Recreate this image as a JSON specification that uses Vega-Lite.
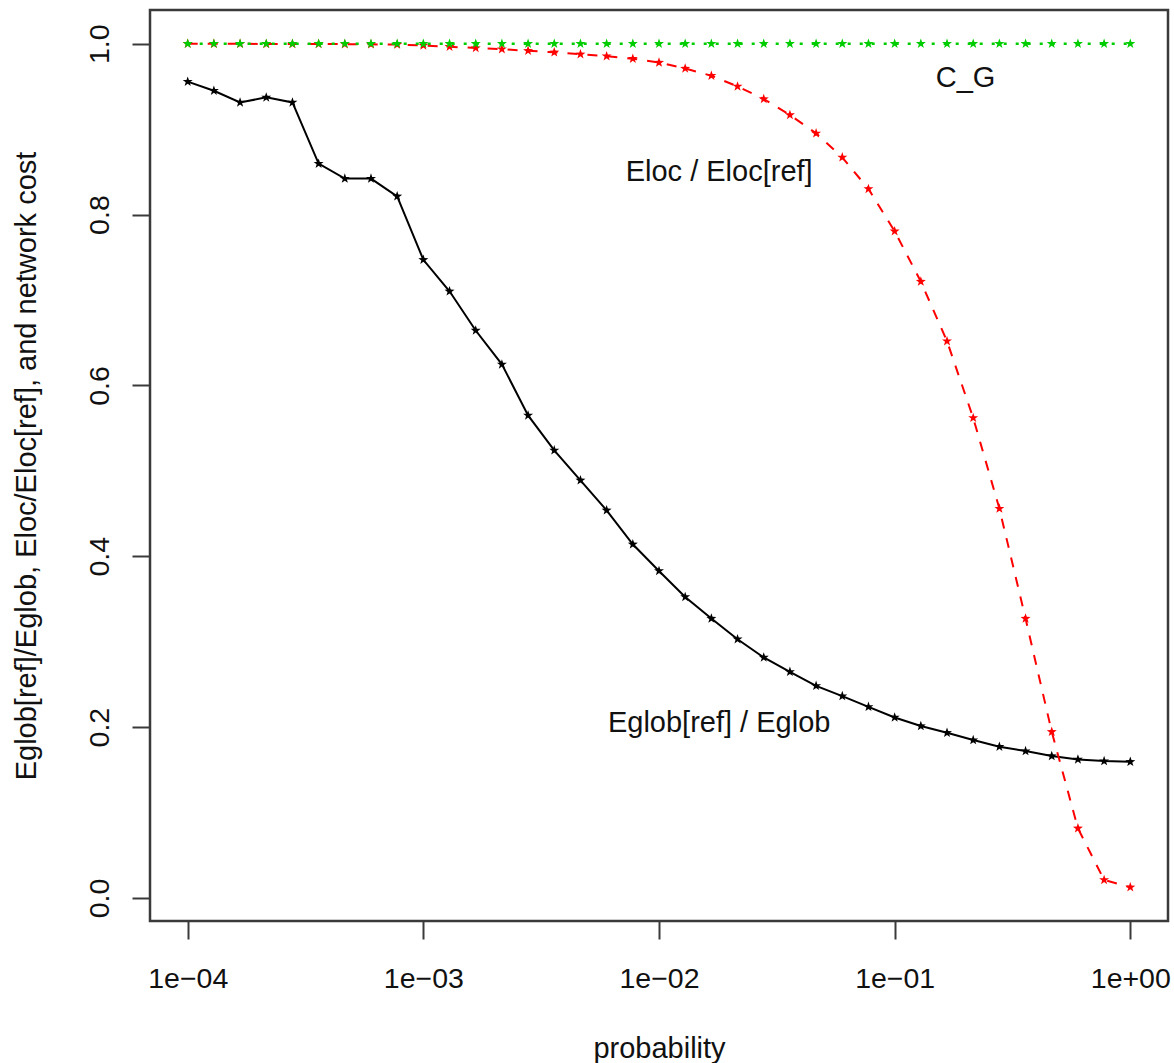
{
  "$schema": "https://vega.github.io/schema/vega-lite/v6.json",
  "autosize": "none",
  "width": 1018,
  "height": 911,
  "padding": {"left": 150, "top": 10, "right": 6, "bottom": 142},
  "background": "white",
  "config": {
    "font": "Liberation Sans",
    "view": {"stroke": "#3a3a3a", "strokeWidth": 2.5},
    "axis": {"grid": false, "domain": false, "tickColor": "#3a3a3a", "tickWidth": 2, "tickSize": 18,
             "labelFont": "Liberation Sans", "labelFontSize": 28.5, "labelColor": "#111",
             "titleFont": "Liberation Sans", "titleFontSize": 29, "titleFontWeight": "normal", "titleColor": "#111"}
  },
  "datasets": {
    "eglob": [
      {"p": 0.0001, "v": 0.9556}, {"p": 0.00012915, "v": 0.9450}, {"p": 0.00016681, "v": 0.9313},
      {"p": 0.00021544, "v": 0.9372}, {"p": 0.00027826, "v": 0.9313}, {"p": 0.00035938, "v": 0.8596},
      {"p": 0.00046416, "v": 0.8421}, {"p": 0.00059948, "v": 0.8421}, {"p": 0.00077426, "v": 0.8214},
      {"p": 0.001, "v": 0.7471}, {"p": 0.0012915, "v": 0.7102}, {"p": 0.0016681, "v": 0.6643},
      {"p": 0.0021544, "v": 0.6246}, {"p": 0.0027826, "v": 0.5649}, {"p": 0.0035938, "v": 0.5240},
      {"p": 0.0046416, "v": 0.4889}, {"p": 0.0059948, "v": 0.4538}, {"p": 0.0077426, "v": 0.4140},
      {"p": 0.01, "v": 0.3828}, {"p": 0.012915, "v": 0.3524}, {"p": 0.016681, "v": 0.3271},
      {"p": 0.021544, "v": 0.3029}, {"p": 0.027826, "v": 0.2815}, {"p": 0.035938, "v": 0.2647},
      {"p": 0.046416, "v": 0.2483}, {"p": 0.059948, "v": 0.2363}, {"p": 0.077426, "v": 0.2237},
      {"p": 0.1, "v": 0.2113}, {"p": 0.12915, "v": 0.2012}, {"p": 0.16681, "v": 0.1933},
      {"p": 0.21544, "v": 0.1848}, {"p": 0.27826, "v": 0.1770}, {"p": 0.35938, "v": 0.1719},
      {"p": 0.46416, "v": 0.1661}, {"p": 0.59948, "v": 0.1622}, {"p": 0.77426, "v": 0.1602},
      {"p": 1, "v": 0.1594}
    ],
    "eloc": [
      {"p": 0.0001, "v": 1.0}, {"p": 0.00012915, "v": 0.9999}, {"p": 0.00016681, "v": 0.9999},
      {"p": 0.00021544, "v": 0.9998}, {"p": 0.00027826, "v": 0.9998}, {"p": 0.00035938, "v": 0.9997},
      {"p": 0.00046416, "v": 0.9995}, {"p": 0.00059948, "v": 0.9993}, {"p": 0.00077426, "v": 0.9990},
      {"p": 0.001, "v": 0.9980}, {"p": 0.0012915, "v": 0.9965}, {"p": 0.0016681, "v": 0.9950},
      {"p": 0.0021544, "v": 0.9936}, {"p": 0.0027826, "v": 0.9918}, {"p": 0.0035938, "v": 0.9900},
      {"p": 0.0046416, "v": 0.9877}, {"p": 0.0059948, "v": 0.9854}, {"p": 0.0077426, "v": 0.9825},
      {"p": 0.01, "v": 0.9780}, {"p": 0.012915, "v": 0.9710}, {"p": 0.016681, "v": 0.9626},
      {"p": 0.021544, "v": 0.9500}, {"p": 0.027826, "v": 0.9353}, {"p": 0.035938, "v": 0.9166},
      {"p": 0.046416, "v": 0.8951}, {"p": 0.059948, "v": 0.8670}, {"p": 0.077426, "v": 0.8300},
      {"p": 0.1, "v": 0.7805}, {"p": 0.12915, "v": 0.7216}, {"p": 0.16681, "v": 0.6518},
      {"p": 0.21544, "v": 0.5620}, {"p": 0.27826, "v": 0.4558}, {"p": 0.35938, "v": 0.3271},
      {"p": 0.46416, "v": 0.1945}, {"p": 0.59948, "v": 0.0815}, {"p": 0.77426, "v": 0.0211},
      {"p": 1, "v": 0.0125}
    ],
    "cg": [
      {"p": 0.0001, "v": 1}, {"p": 0.00012915, "v": 1}, {"p": 0.00016681, "v": 1},
      {"p": 0.00021544, "v": 1}, {"p": 0.00027826, "v": 1}, {"p": 0.00035938, "v": 1},
      {"p": 0.00046416, "v": 1}, {"p": 0.00059948, "v": 1}, {"p": 0.00077426, "v": 1},
      {"p": 0.001, "v": 1}, {"p": 0.0012915, "v": 1}, {"p": 0.0016681, "v": 1},
      {"p": 0.0021544, "v": 1}, {"p": 0.0027826, "v": 1}, {"p": 0.0035938, "v": 1},
      {"p": 0.0046416, "v": 1}, {"p": 0.0059948, "v": 1}, {"p": 0.0077426, "v": 1},
      {"p": 0.01, "v": 1}, {"p": 0.012915, "v": 1}, {"p": 0.016681, "v": 1},
      {"p": 0.021544, "v": 1}, {"p": 0.027826, "v": 1}, {"p": 0.035938, "v": 1},
      {"p": 0.046416, "v": 1}, {"p": 0.059948, "v": 1}, {"p": 0.077426, "v": 1},
      {"p": 0.1, "v": 1}, {"p": 0.12915, "v": 1}, {"p": 0.16681, "v": 1},
      {"p": 0.21544, "v": 1}, {"p": 0.27826, "v": 1}, {"p": 0.35938, "v": 1},
      {"p": 0.46416, "v": 1}, {"p": 0.59948, "v": 1}, {"p": 0.77426, "v": 1},
      {"p": 1, "v": 1}
    ],
    "labels": [
      {"p": 0.2, "v": 0.96, "label": "C_G"},
      {"p": 0.018, "v": 0.85, "label": "Eloc / Eloc[ref]"},
      {"p": 0.018, "v": 0.205, "label": "Eglob[ref] / Eglob"}
    ]
  },
  "encoding": {
    "x": {"field": "p", "type": "quantitative",
          "scale": {"type": "log", "domain": [0.000069183, 1.44544], "nice": false, "zero": false},
          "axis": {"values": [0.0001, 0.001, 0.01, 0.1, 1], "title": "probability",
                   "labelPadding": 25, "titlePadding": 42, "labelFlush": false, "labelOverlap": false,
                   "labelExpr": "datum.value < 0.0005 ? '1e\u221204' : datum.value < 0.005 ? '1e\u221203' : datum.value < 0.05 ? '1e\u221202' : datum.value < 0.5 ? '1e\u221201' : '1e+00'"}},
    "y": {"field": "v", "type": "quantitative",
          "scale": {"domain": [-0.027, 1.0395], "nice": false, "zero": false},
          "axis": {"values": [0, 0.2, 0.4, 0.6, 0.8, 1.0], "format": ".1f",
                   "title": "Eglob[ref]/Eglob, Eloc/Eloc[ref], and network cost",
                   "labelAngle": -90, "labelAlign": "center", "labelBaseline": "alphabetic",
                   "labelPadding": 24, "titlePadding": 44, "labelFlush": false, "labelOverlap": false}}
  },
  "layer": [
    {"data": {"name": "eglob"}, "layer": [
      {"mark": {"type": "line", "color": "black", "strokeWidth": 2}},
      {"mark": {"type": "point", "shape": "M0,-1L0.235,-0.324L0.951,-0.309L0.38,0.124L0.588,0.809L0,0.4L-0.588,0.809L-0.38,0.124L-0.951,-0.309L-0.235,-0.324Z", "filled": true, "color": "black", "size": 110, "opacity": 1}}
    ]},
    {"data": {"name": "eloc"}, "layer": [
      {"mark": {"type": "line", "color": "#ff0000", "strokeWidth": 2, "strokeDash": [10, 10]}},
      {"mark": {"type": "point", "shape": "M0,-1L0.235,-0.324L0.951,-0.309L0.38,0.124L0.588,0.809L0,0.4L-0.588,0.809L-0.38,0.124L-0.951,-0.309L-0.235,-0.324Z", "filled": true, "color": "#ff0000", "size": 110, "opacity": 1}}
    ]},
    {"data": {"name": "cg"}, "layer": [
      {"mark": {"type": "line", "color": "#00cd00", "strokeWidth": 2.5, "strokeDash": [3, 9]}},
      {"mark": {"type": "point", "shape": "M0,-1L0.235,-0.324L0.951,-0.309L0.38,0.124L0.588,0.809L0,0.4L-0.588,0.809L-0.38,0.124L-0.951,-0.309L-0.235,-0.324Z", "filled": true, "color": "#00cd00", "size": 110, "opacity": 1}}
    ]},
    {"data": {"name": "labels"},
     "mark": {"type": "text", "font": "Liberation Sans", "fontSize": 29, "color": "#111", "align": "center", "baseline": "middle"},
     "encoding": {"text": {"field": "label", "type": "nominal"}}}
  ]
}
